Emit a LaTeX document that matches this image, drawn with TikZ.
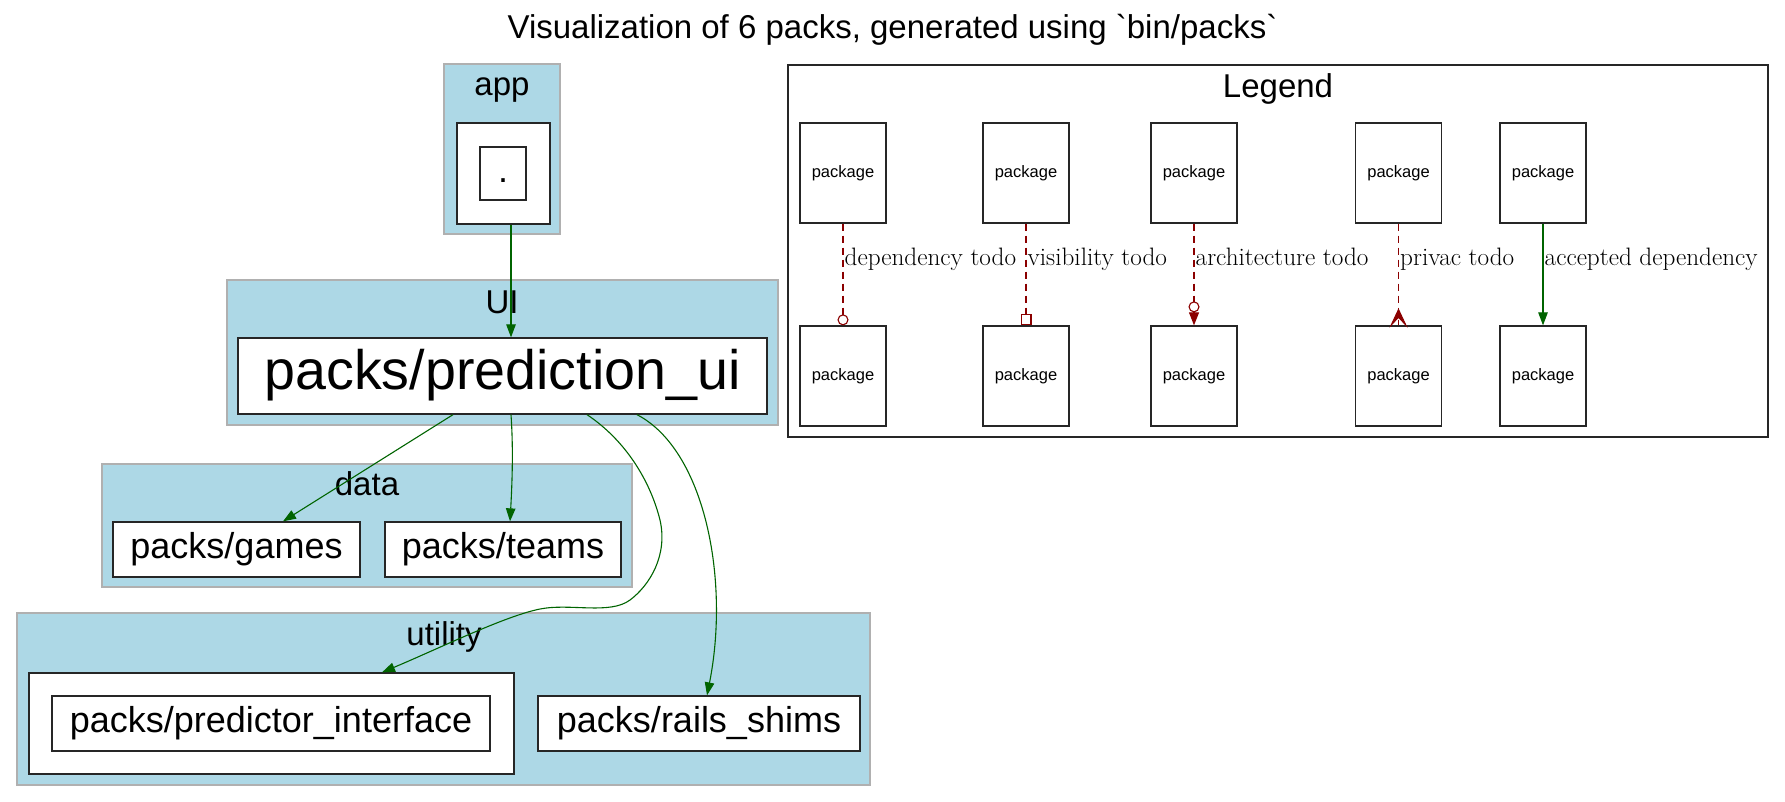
\documentclass[tikz,border=0pt]{standalone}
\usepackage{fontspec}
\newfontfamily\lsans{Liberation Sans}[Ligatures=TeXOff]
\usetikzlibrary{arrows.meta}
\definecolor{clusterfill}{HTML}{ADD8E6}
\definecolor{clusterline}{HTML}{B0B0B0}
\definecolor{depgreen}{HTML}{006400}
\definecolor{todored}{HTML}{8B0000}
\tikzset{
  cluster/.style={draw=clusterline, fill=clusterfill, line width=1.3pt, inner sep=0pt},
  subcluster/.style={draw=black!85, fill=white, line width=1.3pt, inner sep=0pt},
  pack/.style={draw=black!85, fill=white, line width=1.3pt, inner sep=0pt,
    minimum height=55pt, text height=27pt, text depth=9pt,
    font=\lsans\fontsize{36}{43}\selectfont},
  bigpack/.style={pack, minimum height=76pt, text height=41.5pt, text depth=14pt,
    font=\lsans\fontsize{55.6}{66}\selectfont},
  legpack/.style={draw=black!85, fill=white, line width=1.3pt, inner sep=0pt,
    minimum width=86pt, minimum height=100pt, text height=12.4pt, text depth=4.1pt,
    font=\lsans\fontsize{16.5}{20}\selectfont},
  clabel/.style={anchor=base, inner sep=0pt, font=\lsans\fontsize{33}{40}\selectfont},
  dep/.style={draw=depgreen, line width=1.1pt, -{Triangle[length=13pt,width=9.5pt]}},
  todo/.style={draw=todored, line width=1.1pt, dash pattern=on 7pt off 5pt},
  elabel/.style={anchor=base west, inner sep=0pt, font=\fontsize{25.2}{30}\selectfont},
}
\begin{document}
\begin{tikzpicture}[x=1pt,y=-1pt]
\fill[white] (0,0) rectangle (1785,801);
\useasboundingbox (0,0) rectangle (1785,801);

% title
\node[clabel] (title) at (892.5,38) {Visualization of 6 packs, generated using `bin/packs`};

% app layer
\node[cluster, minimum width=116pt, minimum height=170pt] (appc) at (502,149) {};
\node[clabel] (applabel) at (502,95) {app};
\node[subcluster, minimum width=93pt, minimum height=101pt] (appin) at (503.5,173.5) {};
\node[pack, minimum width=46pt, minimum height=53pt] (root) at (503,173.5) {.};

% UI layer
\node[cluster, minimum width=551pt, minimum height=145pt] (uic) at (502.5,352.5) {};
\node[clabel] (uilabel) at (502,313) {UI};
\node[bigpack, minimum width=529pt] (pui) at (502.5,376) {packs/prediction\_ui};

% data layer
\node[cluster, minimum width=530pt, minimum height=123pt] (datac) at (367,525.5) {};
\node[clabel] (datalabel) at (367,495) {data};
\node[pack, minimum width=247pt] (games) at (236.5,549.5) {packs/games};
\node[pack, minimum width=236pt] (teams) at (503,549.5) {packs/teams};

% utility layer
\node[cluster, minimum width=853pt, minimum height=172pt] (utilc) at (443.5,699) {};
\node[clabel] (utillabel) at (444,645) {utility};
\node[subcluster, minimum width=485pt, minimum height=101pt] (predout) at (271.5,723.5) {};
\node[pack, minimum width=438pt] (pred) at (271,723.5) {packs/predictor\_interface};
\node[pack, minimum width=322pt] (rails) at (699,723.5) {packs/rails\_shims};

% dependencies
\draw[dep] ([xshift=7.5pt]appin.south) -- ([xshift=8.5pt]pui.north);
\draw[dep] ([xshift=-49.5pt]pui.south) -- ([xshift=46.5pt]games.north);
\draw[dep] ([xshift=8.5pt]pui.south) .. controls +(2.5,36) and +(2,-36) .. ([xshift=7pt]teams.north);
\draw[dep] ([xshift=84.5pt]pui.south) .. controls (625,440) and (650,480) .. (660,520)
  .. controls (668,555) and (650,585) .. (630,600)
  .. controls (610,615) and (570,603) .. (540,609)
  .. controls (505,616) and (440,648) .. ([xshift=110.5pt]predout.north);
\draw[dep] ([xshift=134.5pt]pui.south) .. controls (705,450) and (730,580) .. ([xshift=8pt]rails.north);

% legend
\node[draw=black!85, line width=1.3pt, fill=white, inner sep=0pt,
  minimum width=980pt, minimum height=372pt] (legend) at (1278,251) {};
\node[clabel] (legendlabel) at (1278,97) {Legend};
\foreach \n/\x in {1/843, 2/1026, 3/1194, 4/1398.5, 5/1543} {
  \node[legpack] (l\n t) at (\x,173) {package};
  \node[legpack] (l\n b) at (\x,376) {package};
}
\draw[todo, -{Circle[length=11pt,width=11pt,fill=white]}] (l1t.south) -- (l1b.north);
\draw[todo, -{Square[length=11pt,width=11pt,fill=white]}] (l2t.south) -- (l2b.north);
\draw[todo, -{Circle[length=11pt,width=11pt,fill=white] Triangle[length=13pt,width=10pt]}] (l3t.south) -- (l3b.north);
\draw[todo] (l4t.south) -- (l4b.north);
\filldraw[todored, line width=0.9pt, line join=miter]
  ([yshift=16pt]l4b.north) -- ([xshift=-7.5pt]l4b.north) -- ([yshift=8pt]l4b.north)
  -- ([xshift=7.5pt]l4b.north) -- cycle;
\draw[dep] (l5t.south) -- (l5b.north);

\node[elabel] (lab1) at (844.5,265) {dependency todo};
\node[elabel] (lab2) at (1027.5,265) {visibility todo};
\node[elabel] (lab3) at (1195.5,265) {architecture todo};
\node[elabel] (lab4) at (1400,265) {privac todo};
\node[elabel] (lab5) at (1544.5,265) {accepted dependency};
\end{tikzpicture}
\end{document}
